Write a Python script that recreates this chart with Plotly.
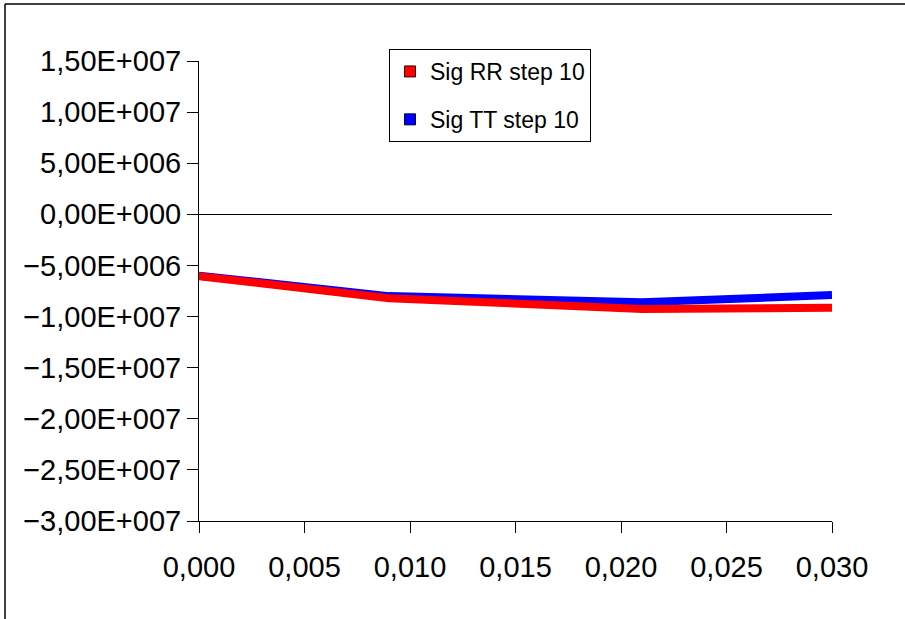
import plotly.graph_objects as go

x_vals = [0.0, 0.009, 0.021, 0.030]
sig_rr = [-6.05e6, -8.2e6, -9.25e6, -9.15e6]
sig_tt = [-6.0e6, -8.0e6, -8.6e6, -7.9e6]

y_tickvals = [1.5e7, 1.0e7, 5.0e6, 0.0, -5.0e6, -1.0e7, -1.5e7, -2.0e7, -2.5e7, -3.0e7]
y_ticktext = ["1,50E+007", "1,00E+007", "5,00E+006", "0,00E+000", "\u22125,00E+006",
              "\u22121,00E+007", "\u22121,50E+007", "\u22122,00E+007", "\u22122,50E+007", "\u22123,00E+007"]
x_tickvals = [0.0, 0.005, 0.010, 0.015, 0.020, 0.025, 0.030]
x_ticktext = ["0,000", "0,005", "0,010", "0,015", "0,020", "0,025", "0,030"]

FONT = "Liberation Sans, Arial, sans-serif"

fig = go.Figure()
fig.add_trace(go.Scatter(x=x_vals, y=sig_tt, mode="lines", line=dict(color="#0000ff", width=8),
                         showlegend=False, hoverinfo="skip"))
fig.add_trace(go.Scatter(x=x_vals, y=sig_rr, mode="lines", line=dict(color="#ff0000", width=8),
                         showlegend=False, hoverinfo="skip"))
# legend entries (square swatches)
fig.add_trace(go.Scatter(x=[None], y=[None], mode="markers", name="Sig RR step 10", legendgroup="a",
                         marker=dict(symbol="square", size=11, color="#ff0000", line=dict(color="#330000", width=1))))
fig.add_trace(go.Scatter(x=[None], y=[None], mode="markers", name="Sig TT step 10", legendgroup="b",
                         marker=dict(symbol="square", size=11, color="#0000ff", line=dict(color="#000033", width=1))))

fig.update_layout(
    width=905, height=619,
    margin=dict(l=199, r=73, t=61, b=98),
    paper_bgcolor="white", plot_bgcolor="white",
    font=dict(family=FONT, color="black"),
    legend=dict(x=(389 - 199) / 633, y=(521 - 49) / 460, xanchor="left", yanchor="top",
                bgcolor="white", bordercolor="black", borderwidth=1,
                font=dict(size=23, family=FONT, color="black"),
                tracegroupgap=15, traceorder="grouped"),
    xaxis=dict(range=[0, 0.03], tickvals=x_tickvals, ticktext=x_ticktext,
               showline=True, linecolor="black", linewidth=1, mirror=False,
               ticks="outside", ticklen=11, tickwidth=1, tickcolor="black",
               ticklabelstandoff=9,
               showgrid=False, zeroline=False, tickfont=dict(size=29, family=FONT),
               fixedrange=True),
    yaxis=dict(range=[-3e7, 1.5e7], tickvals=y_tickvals, ticktext=y_ticktext,
               showline=True, linecolor="black", linewidth=1,
               ticks="outside", ticklen=11, tickwidth=1, tickcolor="black",
               showgrid=False, zeroline=True, zerolinecolor="black", zerolinewidth=1,
               tickfont=dict(size=29, family=FONT), fixedrange=True),
    shapes=[
        dict(type="line", xref="paper", yref="paper",
             x0=(5 - 199) / 633, x1=(905 - 199) / 633,
             y0=(521 - 4) / 460, y1=(521 - 4) / 460,
             line=dict(color="black", width=1.5)),
        dict(type="line", xref="paper", yref="paper",
             x0=(5 - 199) / 633, x1=(5 - 199) / 633,
             y0=(521 - 4) / 460, y1=(521 - 619) / 460,
             line=dict(color="black", width=1.5)),
    ],
)

fig.write_html("out.html", config={"displayModeBar": False},
               post_script="document.body.style.margin='0px';")
